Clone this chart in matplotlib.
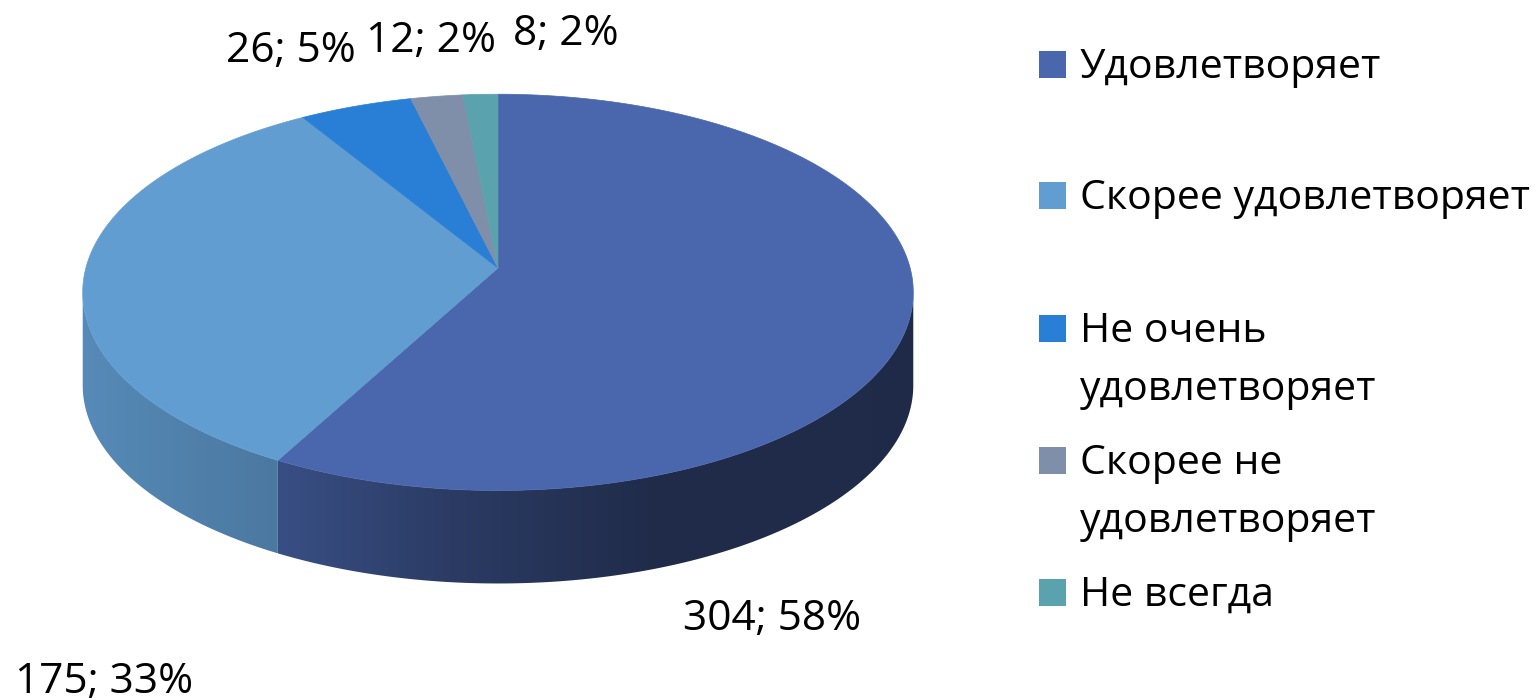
import numpy as np
import matplotlib
matplotlib.use("Agg")
import matplotlib.pyplot as plt
from matplotlib.patches import Polygon, Rectangle

plt.rcParams['font.family'] = ['Open Sans', 'DejaVu Sans']

# data
categories = ["Удовлетворяет", "Скорее удовлетворяет", "Не очень\nудовлетворяет",
              "Скорее не\nудовлетворяет", "Не всегда"]
counts = [304, 175, 26, 12, 8]
colors = ["#4A66AC", "#629DD1", "#297FD5", "#7F8FA9", "#5AA2AE"]

total = sum(counts)
pcts = [round(100 * v / total) for v in counts]
labels = [f"{v}; {p}%" for v, p in zip(counts, pcts)]

# 3d pie projection (pixel space)
cx, cy = 498, 268
F, D = 2955.0, 7.17
s_t, c_t = 0.4735, 0.881
depth_px = 93


def proj(theta, r=1.0):
    # theta clockwise from the back (screen up), degrees
    t = np.radians(theta)
    x = r * np.sin(t)
    y = r * np.cos(t)
    w = D + y * c_t
    return cx + F * x / w, cy - F * y * s_t / w


def shade(xpix):
    return np.interp(xpix, [82, 285, 450, 650, 913], [0.88, 0.76, 0.58, 0.43, 0.42])


fig = plt.figure(figsize=(15.4, 7), dpi=100)
ax = fig.add_axes([0, 0, 1, 1])
ax.set_autoscale_on(False)
ax.set_xlim(0, 1540)
ax.set_ylim(700, 0)
ax.axis("off")

bounds = np.concatenate([[0], np.cumsum(counts)]) / total * 360
xgrid = np.arange(0, 1540)

# visible front arc: between rightmost and leftmost silhouette points
tt = np.linspace(0, 360, 7201)
xx, _ = proj(tt)
th_right, th_left = tt[np.argmax(xx)], tt[np.argmin(xx)]

# side walls with horizontal gradient
for i in range(len(counts)):
    a0 = max(bounds[i], th_right)
    a1 = min(bounds[i + 1], th_left)
    if a1 <= a0:
        continue
    th = np.linspace(a0, a1, 300)
    xs, ys = proj(th)
    pts = list(zip(xs, ys)) + list(zip(xs[::-1], ys[::-1] + depth_px))
    wall = Polygon(pts, closed=True, facecolor="none", edgecolor="none")
    ax.add_patch(wall)
    rgb = np.array(matplotlib.colors.to_rgb(colors[i]))
    grad = shade(xgrid)[None, :, None] * rgb[None, None, :]
    im = ax.imshow(grad, extent=[0, 1540, 700, 0], aspect="auto",
                   interpolation="bilinear", zorder=1)
    im.set_clip_path(wall)

# top faces
for i in range(len(counts)):
    th = np.linspace(bounds[i], bounds[i + 1], 200)
    xs, ys = proj(th)
    pts = [(cx, cy)] + list(zip(xs, ys))
    ax.add_patch(Polygon(pts, closed=True, facecolor=colors[i], edgecolor=colors[i],
                         lw=0.5, zorder=2))

ax.set_xlim(0, 1540)
ax.set_ylim(700, 0)

# data labels
label_pos = [(772, 630), (104, 693), (291, 62), (431, 52), (566, 45)]
for txt, (lx, ly) in zip(labels, label_pos):
    ax.text(lx, ly, txt, fontsize=30.5, ha="center", va="baseline", color="black")

# legend
leg_top = [51, 182, 315, 447, 579]
for name, col, top in zip(categories, colors, leg_top):
    ax.add_patch(Rectangle((1039, top), 27, 27, facecolor=col, edgecolor="none"))
    for j, line in enumerate(name.split("\n")):
        ax.text(1080, top + 27 + j * 58, line, fontsize=29.5, ha="left", va="baseline", color="black")

fig.savefig("out.png", dpi=100)
